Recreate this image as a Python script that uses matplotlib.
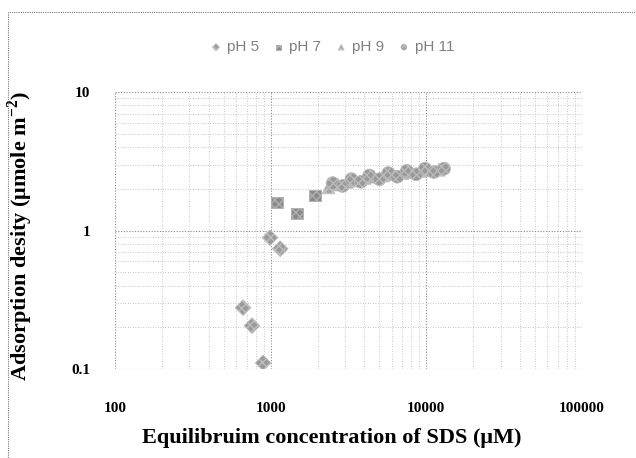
import matplotlib
matplotlib.use("Agg")
import matplotlib.pyplot as plt
from matplotlib.patches import Rectangle

plt.rcParams['mathtext.fontset'] = 'custom'
plt.rcParams['mathtext.rm'] = 'Liberation Serif:bold'
plt.rcParams['mathtext.bf'] = 'Liberation Serif:bold'

# Data (concentration in uM, adsorption density)
ph5_x = [664, 758, 894, 989, 1150]
ph5_y = [0.278, 0.206, 0.111, 0.89, 0.74]

ph7_x = [1100, 1477, 1920]
ph7_y = [1.59, 1.33, 1.79]

ph9_x = [2350, 2700, 3100, 3500, 4000, 4600, 5300, 6100, 7000, 8000, 9200, 10500, 12000]
ph9_y = [2.05, 2.15, 2.25, 2.30, 2.40, 2.45, 2.50, 2.55, 2.60, 2.65, 2.70, 2.72, 2.75]

ph11_x = [2500, 2900, 3300, 3800, 4300, 5000, 5700, 6500, 7500, 8600, 9800, 11200, 13000]
ph11_y = [2.20, 2.10, 2.35, 2.25, 2.50, 2.35, 2.60, 2.45, 2.70, 2.55, 2.80, 2.65, 2.80]

x_ticks = [100, 1000, 10000, 100000]
x_labels = ['100', '1000', '10000', '100000']
y_ticks = [0.1, 1, 10]
y_labels = ['0.1', '1', '10']

fig = plt.figure(figsize=(6.36, 4.58), dpi=100)
ax = fig.add_axes([0.181, 0.194, 0.734, 0.605])

# chart border (dotted, like the Excel chart area)
fig.patches.append(Rectangle((0.013, -0.05), 1.1, 1.023, transform=fig.transFigure,
                             fill=False, ls=(0, (1, 1)), lw=0.8, ec='#777777'))

ms = 85
ax.scatter(ph5_x, ph5_y, marker='D', s=ms * 0.75, c='#9a9a9a', edgecolors='#bdbdbd',
           linewidths=0.6, hatch='xxxx', label='pH 5', zorder=3)
ax.scatter(ph7_x, ph7_y, marker='s', s=ms * 0.8, c='#8a8a8a', edgecolors='#b0b0b0',
           linewidths=0.6, hatch='xxxx', label='pH 7', zorder=3)
ax.scatter(ph9_x, ph9_y, marker='^', s=ms, c='#a5a5a5', edgecolors='#c4c4c4',
           linewidths=0.6, hatch='xxxx', label='pH 9', zorder=3)
ax.scatter(ph11_x, ph11_y, marker='o', s=ms, c='#999999', edgecolors='#bbbbbb',
           linewidths=0.6, hatch='xxxx', label='pH 11', zorder=3)

ax.set_xscale('log')
ax.set_yscale('log')
ax.set_xlim(100, 100000)
ax.set_ylim(0.1, 10)

for s in ax.spines.values():
    s.set_visible(False)
ax.grid(True, which='major', ls=(0, (1, 1.5)), lw=0.8, color='#888888')
ax.grid(True, which='minor', ls=(0, (1, 2)), lw=0.6, color='#b5b5b5')
ax.tick_params(which='both', length=0)
ax.tick_params(axis='x', pad=24)
ax.tick_params(axis='y', pad=18)

ax.set_xticks(x_ticks)
ax.set_xticklabels(x_labels, family='Liberation Serif', fontweight='bold', fontsize=11)
ax.set_yticks(y_ticks)
ax.set_yticklabels(y_labels, family='Liberation Serif', fontweight='bold', fontsize=11)

ax.set_xlabel('Equilibruim concentration of SDS (\u03bcM)', family='Liberation Serif',
              fontweight='bold', fontsize=16, labelpad=9)
ax.xaxis.label.set_x(0.465)
ax.set_ylabel('Adsorption desity (\u03bcmole m$^{-2}$)', family='Liberation Serif',
              fontweight='bold', fontsize=16)
ax.yaxis.set_label_coords(-0.172, 0.48)

leg = fig.legend(loc='center', bbox_to_anchor=(0.522, 0.897), ncol=4, frameon=False,
                 handlelength=0.8, handletextpad=0.3, columnspacing=0.9, markerscale=0.45,
                 prop={'family': 'Liberation Sans', 'size': 11})
for t in leg.get_texts():
    t.set_color('#808080')

fig.savefig('out.png', dpi=100)
